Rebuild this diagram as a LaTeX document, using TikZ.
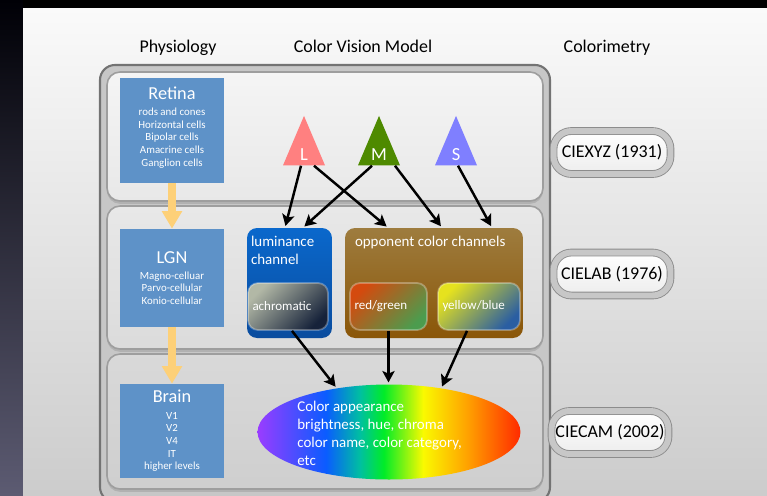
\documentclass[tikz,border=0pt]{standalone}
\usepackage{fontspec}
\setmainfont{Carlito}
\usetikzlibrary{positioning,shapes.geometric,arrows.meta,shadows}

\definecolor{physblue}{HTML}{5E92C8}
\definecolor{flowgold}{HTML}{FDD078}
\definecolor{coneL}{HTML}{FF8080}
\definecolor{coneM}{HTML}{4E8A00}
\definecolor{coneS}{HTML}{7F7FFF}
\definecolor{lumtop}{HTML}{0A68CC}
\definecolor{lumbot}{HTML}{0A4C9E}
\definecolor{opptop}{HTML}{9E7C3E}
\definecolor{oppbot}{HTML}{8A5608}
\definecolor{sidetop}{HTML}{000006}
\definecolor{sidebot}{HTML}{5C5B72}
\definecolor{achroA}{HTML}{B2B8A6}
\definecolor{achroB}{HTML}{16223A}
\definecolor{rgA}{HTML}{D44A0E}
\definecolor{rgB}{HTML}{4C9C4E}
\definecolor{ybA}{HTML}{E6E21E}
\definecolor{ybB}{HTML}{2A5EA2}
\definecolor{sp1}{HTML}{9A3CFF}
\definecolor{sp2}{HTML}{0A5CFF}
\definecolor{sp3}{HTML}{00C0A0}
\definecolor{sp4}{HTML}{00EC28}
\definecolor{sp5}{HTML}{FAFA00}
\definecolor{sp6}{HTML}{FFA000}
\definecolor{sp7}{HTML}{FF2A00}

% spectrum band, only 25bp..75bp ends up inside the path
\pgfdeclarehorizontalshading{spectrum}{100bp}{%
  color(0bp)=(sp1); color(25bp)=(sp1); color(38bp)=(sp2); color(44.5bp)=(sp3);
  color(49bp)=(sp4); color(56.5bp)=(sp5); color(65bp)=(sp6);
  color(75bp)=(sp7); color(100bp)=(sp7)}

\begin{document}
\begin{tikzpicture}[
  x=0.02cm, y=-0.02cm,
  every node/.style={inner sep=0pt, font=\fontsize{10.2}{12}\selectfont},
  head/.style={anchor=base},
  panel/.style={draw=black!38, line width=0.9pt, rounded corners=0.26cm,
    drop shadow={shadow xshift=0pt, shadow yshift=-1.6pt, opacity=0.3}},
  physbox/.style={fill=physblue, text=white, minimum width=2.08cm, align=center,
    font=\fontsize{6.2}{7.2}\selectfont},
  flow/.style={flowgold, line width=4pt, -{Triangle[length=10pt, width=11pt]}},
  cone/.style={isosceles triangle, isosceles triangle apex angle=46,
    shape border rotate=90, minimum width=0.84cm, minimum height=0.84cm,
    anchor=apex, fill=#1},
  conelab/.style={text=white, font=\fontsize{10.5}{12}\selectfont},
  arr/.style={line width=1.4pt, -{Stealth[length=6.5pt, width=7pt, inset=1.5pt]},
    shorten >=1pt},
  chan/.style={rounded corners=0.2cm, minimum height=2.2cm},
  chantitle/.style={text=white, align=left, font=\fontsize{8.5}{10.2}\selectfont},
  sub/.style={rounded corners=0.2cm, minimum height=0.94cm, inner xsep=0.09cm,
    align=left, text=white, font=\fontsize{7.4}{9}\selectfont,
    draw=white, draw opacity=0.3, line width=1pt},
  cie/.style={rounded corners=0.36cm, minimum width=2.34cm, minimum height=0.86cm,
    draw=black!45, double=black!22, double distance=3.4pt, line width=0.5pt,
    top color=white, bottom color=black!7}
]
\useasboundingbox (0,0) rectangle (767,495);
\fill[black] (0,0) rectangle (767,495);
\shade[top color=sidetop, bottom color=sidebot] (0,0) rectangle (23,495);
\shade[top color=black!2, bottom color=black!20] (23,8) rectangle (767,495);

\node[head] (hphys) at (178,52) {Physiology};
\node[head] (hmodel) at (363,52) {Color Vision Model};
\node[head] (hcolor) at (607,52) {Colorimetry};

% frame with the three levels
\draw[draw=black!55, line width=1.2pt, fill=black!22, rounded corners=0.3cm]
  (100,65) rectangle (550,502);
\draw[panel, top color=black!4, bottom color=black!9] (107,72) rectangle (543,201);
\draw[panel, top color=black!9, bottom color=black!14] (107,206) rectangle (543,349);
\draw[panel, top color=black!15, bottom color=black!19] (107,354) rectangle (543,489);

\node[physbox, minimum height=2.1cm, text depth=4.5pt] (retina) at (172,130.5)
  {{\fontsize{10.4}{12}\selectfont Retina}\\[2pt] rods and cones\\ Horizontal cells\\
   Bipolar cells\\ Amacrine cells\\ Ganglion cells};
\node[physbox, minimum height=1.96cm] (lgn) at (172,278)
  {{\fontsize{10.4}{12}\selectfont LGN}\\[2pt] Magno-celluar\\ Parvo-cellular\\ Konio-cellular};
\node[physbox, minimum height=1.88cm] (brain) at (172,431)
  {{\fontsize{10.4}{12}\selectfont Brain}\\[2pt] V1\\ V2\\ V4\\ IT\\ higher levels};
\draw[flow] (retina) -- (lgn);
\draw[flow] (lgn) -- (brain);

\node[cone=coneL] (lcone) at (304,115) {};
\node[conelab, above=2.8pt of lcone.lower side] (llab) {L};
\node[cone=coneM] (mcone) at (379,115) {};
\node[conelab, above=2.8pt of mcone.lower side] (mlab) {M};
\node[cone=coneS] (scone) at (456,115) {};
\node[conelab, above=2.8pt of scone.lower side] (slab) {S};

\node[chan, minimum width=1.7cm, top color=lumtop, bottom color=lumbot] (lum) at (289.5,283) {};
\node[chantitle, below right=0.16cm and 0.08cm of lum.north west] (lumname) {luminance\\channel};
\node[chan, minimum width=3.56cm, top color=opptop, bottom color=oppbot] (opp) at (434,283) {};
\node[chantitle, below right=0.16cm and 0.2cm of opp.north west] (oppname) {opponent color channels};

\node[sub, text width=1.42cm, top color=achroA, bottom color=achroB, shading angle=45]
  (achro) at (288,306.5) {achromatic};
\node[sub, text width=1.36cm, top color=rgA, bottom color=rgB, shading angle=45]
  (rg) at (388.5,306.5) {red/green};
\node[sub, text width=1.46cm, top color=ybA, bottom color=ybB, shading angle=45]
  (yb) at (479,306.5) {yellow/blue};

\node[ellipse, minimum width=5.26cm, minimum height=1.9cm, shade, shading=spectrum]
  (cam) at (389,432) {};
\node[anchor=north west, align=left, text=white, font=\fontsize{8.5}{10.2}\selectfont]
  (camtext) at (297,401)
  {Color appearance\\ brightness, hue, chroma\\ color name, color category,\\ etc};

% cones into the channels
\draw[arr] ([xshift=-0.06cm]lcone.lower side) -- ([xshift=-0.09cm]lum.north);
\draw[arr] ([xshift=0.2cm]lcone.lower side) -- ([xshift=-0.92cm]opp.north);
\draw[arr] ([xshift=-0.14cm]mcone.lower side) -- ([xshift=0.27cm]lum.north);
\draw[arr] ([xshift=0.32cm]mcone.lower side) -- ([xshift=0.16cm]opp.north);
\draw[arr] ([xshift=0.04cm]scone.lower side) -- ([xshift=1.16cm]opp.north);
% channels into colour appearance
\draw[arr] ([xshift=0.08cm]achro.south) -- (cam.140);
\draw[arr] (rg.south) -- (rg.south |- cam.north);
\draw[arr] ([xshift=-0.24cm]yb.south) -- (cam.40);

\node[cie] (xyz) at (612,152.5) {CIEXYZ (1931)};
\node[cie] (lab) at (612,274) {CIELAB (1976)};
\node[cie] (cam02) at (610,432.5) {CIECAM (2002)};
\end{tikzpicture}
\end{document}
